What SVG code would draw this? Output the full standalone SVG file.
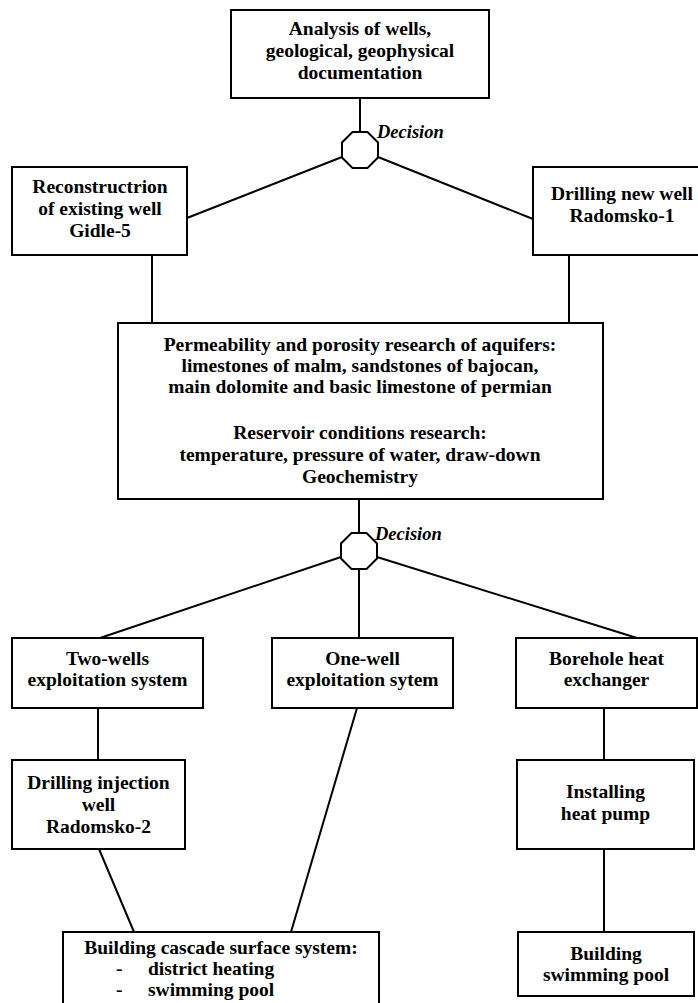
<svg xmlns="http://www.w3.org/2000/svg" width="698" height="1003" viewBox="0 0 698 1003">
<style>
.box{fill:#fff;stroke:#000;stroke-width:2}
.oct{fill:#fff;stroke:#000;stroke-width:2}
.t{font-family:"Liberation Serif","Times New Roman",serif;font-weight:bold;font-size:19.5px;fill:#000;text-anchor:middle}
.tl{font-family:"Liberation Serif","Times New Roman",serif;font-weight:bold;font-size:19.5px;fill:#000}
.d{font-family:"Liberation Serif","Times New Roman",serif;font-weight:bold;font-style:italic;font-size:18.5px;fill:#000}
.c{stroke:#000;stroke-width:2;fill:none}
</style>
<rect width="698" height="1003" fill="#fff"/>
<g id="connectors">
<line class="c" x1="360" y1="98" x2="360" y2="132"/>
<line class="c" x1="342" y1="157" x2="187" y2="218"/>
<line class="c" x1="378" y1="157" x2="533" y2="219"/>
<line class="c" x1="152" y1="255" x2="152" y2="323"/>
<line class="c" x1="569" y1="255" x2="569" y2="323"/>
<line class="c" x1="359" y1="499" x2="359" y2="533"/>
<line class="c" x1="341" y1="557" x2="100" y2="638"/>
<line class="c" x1="359" y1="569" x2="359" y2="638"/>
<line class="c" x1="377" y1="557" x2="637" y2="638"/>
<line class="c" x1="98" y1="708" x2="98" y2="760"/>
<line class="c" x1="604" y1="708" x2="604" y2="760"/>
<line class="c" x1="99" y1="849" x2="134" y2="932"/>
<line class="c" x1="357" y1="708" x2="291" y2="932"/>
<line class="c" x1="604" y1="849" x2="604" y2="932"/>
</g>
<g id="analysis">
<rect class="box" x="231" y="10" width="258" height="88"/>
<text class="t" x="360" y="35">Analysis of wells,</text>
<text class="t" x="360" y="57">geological, geophysical</text>
<text class="t" x="360" y="79">documentation</text>
</g>
<g id="decision1">
<polygon class="oct" points="352.5,132 367.5,132 378,142.5 378,157.5 367.5,168 352.5,168 342,157.5 342,142.5"/>
<text class="d" x="377" y="138">Decision</text>
</g>
<g id="reconstruction">
<rect class="box" x="12" y="167" width="175" height="88"/>
<text class="t" x="100" y="193">Reconstructrion</text>
<text class="t" x="100" y="215">of existing well</text>
<text class="t" x="100" y="237">Gidle-5</text>
</g>
<g id="drilling-new">
<rect class="box" x="533" y="167" width="178" height="88"/>
<text class="t" x="622" y="200">Drilling new well</text>
<text class="t" x="622" y="222">Radomsko-1</text>
</g>
<g id="research">
<rect class="box" x="118" y="323" width="485" height="176"/>
<text class="t" x="360" y="351">Permeability and porosity research of aquifers:</text>
<text class="t" x="360" y="372">limestones of malm, sandstones of bajocan,</text>
<text class="t" x="360" y="393">main dolomite and basic limestone of permian</text>
<text class="t" x="360" y="439">Reservoir conditions research:</text>
<text class="t" x="360" y="461">temperature, pressure of water, draw-down</text>
<text class="t" x="360" y="483">Geochemistry</text>
</g>
<g id="decision2">
<polygon class="oct" points="351.5,533 366.5,533 377,543.5 377,558.5 366.5,569 351.5,569 341,558.5 341,543.5"/>
<text class="d" x="375" y="540">Decision</text>
</g>
<g id="two-wells">
<rect class="box" x="12" y="638" width="191" height="70"/>
<text class="t" x="107.5" y="665">Two-wells</text>
<text class="t" x="107.5" y="686">exploitation system</text>
</g>
<g id="one-well">
<rect class="box" x="272" y="638" width="181" height="70"/>
<text class="t" x="362.5" y="665">One-well</text>
<text class="t" x="362.5" y="686">exploitation sytem</text>
</g>
<g id="borehole">
<rect class="box" x="516" y="638" width="181" height="70"/>
<text class="t" x="606.5" y="665">Borehole heat</text>
<text class="t" x="606.5" y="686">exchanger</text>
</g>
<g id="drilling-injection">
<rect class="box" x="12" y="760" width="173" height="89"/>
<text class="t" x="98.5" y="789">Drilling injection</text>
<text class="t" x="98.5" y="811">well</text>
<text class="t" x="98.5" y="833">Radomsko-2</text>
</g>
<g id="heat-pump">
<rect class="box" x="517" y="760" width="177" height="89"/>
<text class="t" x="605.5" y="798">Installing</text>
<text class="t" x="605.5" y="820">heat pump</text>
</g>
<g id="cascade">
<rect class="box" x="63" y="932" width="316" height="90"/>
<text class="t" x="221" y="954">Building cascade surface system:</text>
<text class="tl" x="116" y="975">-</text>
<text class="tl" x="148" y="975">district heating</text>
<text class="tl" x="116" y="996">-</text>
<text class="tl" x="148" y="996">swimming pool</text>
</g>
<g id="swimming-pool">
<rect class="box" x="518" y="932" width="176" height="64"/>
<text class="t" x="606" y="960">Building</text>
<text class="t" x="606" y="981">swimming pool</text>
</g>
</svg>
